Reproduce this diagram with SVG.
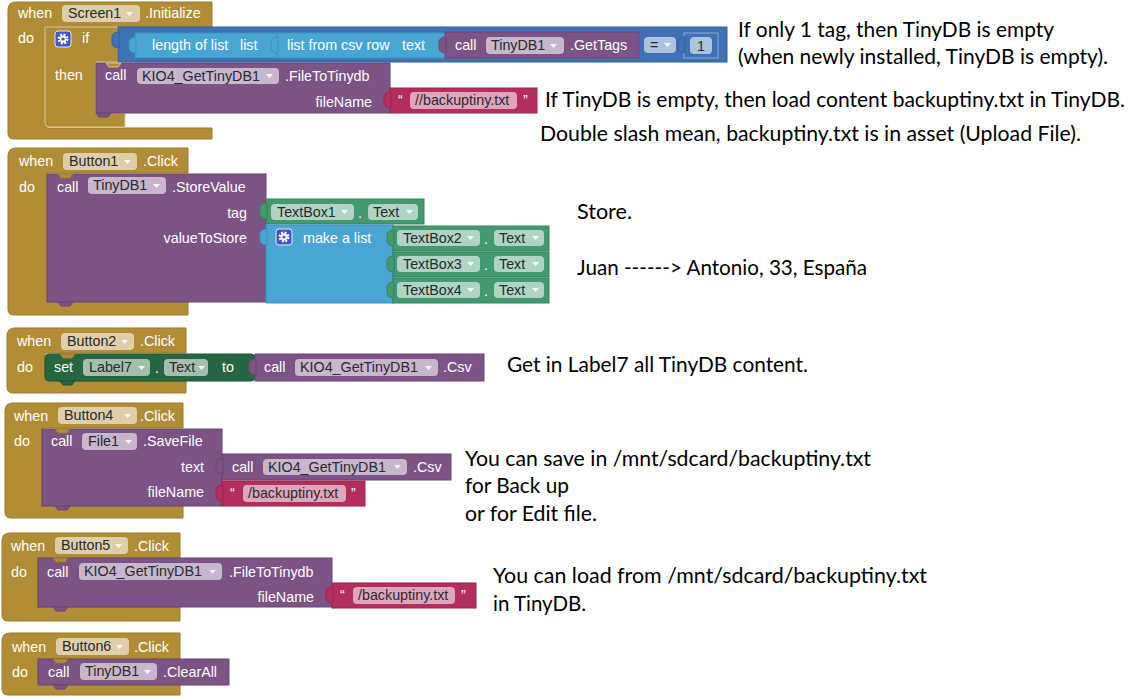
<svg xmlns="http://www.w3.org/2000/svg" xmlns:xlink="http://www.w3.org/1999/xlink" width="1138" height="698" viewBox="0 0 1138 698">
<style>
.ev{fill:#B18E35;stroke:#9A7A2C;stroke-width:1}
.ifb{fill:#B18E35;stroke:#D9C690;stroke-width:1}
.pu{fill:#7C5385;stroke:#6A4572;stroke-width:1}
.pk{fill:#B32D5E;stroke:#9C2450;stroke-width:1}
.gr{fill:#439970;stroke:#37835F;stroke-width:1}
.dg{fill:#266643;stroke:#1E5536;stroke-width:1}
.lb{fill:#49A6D4;stroke:#3B8FBA;stroke-width:1}
.mb{fill:#3F71B5;stroke:#35619C;stroke-width:1}
.mbn{fill:#3F71B5;stroke:#8FAEDA;stroke-width:1}
.fd{fill:#fff;fill-opacity:.58;stroke:none}
.ar{fill:#fff;fill-opacity:.85}
.t{font-family:"Liberation Sans",Arial,sans-serif;font-size:14.3px;fill:#fff}
.ft{font-family:"Liberation Sans",Arial,sans-serif;font-size:14.3px;fill:#2a2a2a}
.r{text-anchor:end}
.n{font-family:Lato,"Open Sans",sans-serif;font-size:21px;fill:#000}
</style>
<defs>
<path id="tab" d="M1,4 C-3,4 -6,6 -6,9 V15 C-6,18 -3,20 1,20 Z"/>
<path id="ntc" d="M0,0 L3,4 H12 L15,0 Z"/>
<path id="arw" d="M0,0 H7 L3.5,4 Z"/>
<g id="gear">
<rect x="0" y="0" width="16" height="16" rx="3" fill="#3D57C8" stroke="#E6E8F6" stroke-width="1"/>
<circle cx="8" cy="8" r="4.2" fill="none" stroke="#fff" stroke-width="2.6" stroke-dasharray="1.9 1.4"/>
<circle cx="8" cy="8" r="3.4" fill="#fff"/>
<circle cx="8" cy="8" r="1.6" fill="#3D57C8"/>
</g>
</defs>

<g id="screen1-initialize">
<path class="ev" d="M8,10 Q8,2 16,2 H212 V27 H47 V128 H212 V139 H14 Q8,139 8,133 Z"/>
<text class="t" x="18" y="18">when</text>
<rect class="fd" x="62" y="5" width="78" height="17" rx="4"/>
<text class="ft" x="68" y="18">Screen1</text>
<use href="#arw" x="126" y="12" class="ar"/>
<text class="t" x="145" y="18">.Initialize</text>
<text class="t" x="18" y="43">do</text>
<path class="ifb" d="M45,27 H118 V62 H96 V113 H125 V127 H49 Q45,127 45,123 Z"/>
<use href="#ntc" x="96" y="113" class="pu"/>
<use href="#gear" x="55" y="31"/>
<text class="t" x="82" y="43">if</text>
<text class="t" x="55" y="80">then</text>
<rect class="mb" x="118" y="27" width="609" height="35"/>
<use href="#tab" x="118" y="28" class="mb"/>
<rect class="lb" x="135" y="33" width="504" height="25"/>
<use href="#tab" x="135" y="33" class="lb"/>
<text class="t" x="152" y="50">length of list</text>
<text class="t" x="240" y="50">list</text>
<rect class="lb" x="277" y="33" width="362" height="25"/>
<use href="#tab" x="277" y="33" class="lb"/>
<text class="t" x="287" y="50">list from csv row</text>
<text class="t" x="402" y="50">text</text>
<rect class="pu" x="445" y="32" width="194" height="26"/>
<use href="#tab" x="445" y="33" class="pu"/>
<text class="t" x="455" y="50">call</text>
<rect class="fd" x="486" y="37" width="78" height="17" rx="4"/>
<text class="ft" x="491" y="50">TinyDB1</text>
<use href="#arw" x="550" y="44" class="ar"/>
<text class="t" x="570" y="50">.GetTags</text>
<rect class="fd" x="644" y="37" width="32" height="16" rx="4"/>
<text class="ft" x="650" y="50">=</text>
<use href="#arw" x="664" y="43" class="ar"/>
<rect class="mbn" x="684" y="33" width="34" height="25"/>
<use href="#tab" x="684" y="33" class="mb"/>
<rect class="fd" x="690" y="37" width="22" height="17" rx="4"/>
<text class="ft" x="697" y="51">1</text>
<rect class="pu" x="96" y="63" width="294" height="50"/>
<use href="#ntc" x="106" y="63" class="ifb"/>
<text class="t" x="105" y="80">call</text>
<rect class="fd" x="137" y="68" width="142" height="16" rx="4"/>
<text class="ft" x="142" y="81">KIO4_GetTinyDB1</text>
<use href="#arw" x="266" y="74" class="ar"/>
<text class="t" x="285" y="81">.FileToTinydb</text>
<text class="t r" x="372" y="107">fileName</text>
<rect class="pk" x="390" y="88" width="147" height="25"/>
<use href="#tab" x="390" y="88" class="pk"/>
<text class="t" x="398" y="105">“</text>
<rect class="fd" x="410" y="92" width="107" height="17" rx="4"/>
<text class="ft" x="415" y="105">//backuptiny.txt</text>
<text class="t" x="523" y="105">”</text>
</g>

<g id="button1-click">
<path class="ev" d="M8,156 Q8,148 16,148 H188 V173 H47 V302 H188 V315 H14 Q8,315 8,309 Z"/>
<text class="t" x="19" y="166">when</text>
<rect class="fd" x="63" y="153" width="74" height="17" rx="4"/>
<text class="ft" x="69" y="166">Button1</text>
<use href="#arw" x="124" y="160" class="ar"/>
<text class="t" x="143" y="166">.Click</text>
<text class="t" x="19" y="192">do</text>
<rect class="pu" x="47" y="174" width="219" height="128"/>
<use href="#ntc" x="58" y="174" class="ev"/>
<use href="#ntc" x="58" y="302" class="pu"/>
<text class="t" x="57" y="192">call</text>
<rect class="fd" x="88" y="177" width="78" height="17" rx="4"/>
<text class="ft" x="93" y="190">TinyDB1</text>
<use href="#arw" x="153" y="184" class="ar"/>
<text class="t" x="172" y="192">.StoreValue</text>
<text class="t r" x="247" y="218">tag</text>
<text class="t r" x="247" y="243">valueToStore</text>
<rect class="gr" x="266" y="199" width="158" height="25"/>
<use href="#tab" x="266" y="199" class="gr"/>
<rect class="fd" x="271" y="204" width="83" height="16" rx="4"/>
<text class="ft" x="277" y="217">TextBox1</text>
<use href="#arw" x="341" y="210" class="ar"/>
<text class="t" x="358" y="218">.</text>
<rect class="fd" x="368" y="204" width="50" height="16" rx="4"/>
<text class="ft" x="373" y="217">Text</text>
<use href="#arw" x="406" y="210" class="ar"/>
<rect class="lb" x="266" y="225" width="127" height="78"/>
<use href="#tab" x="266" y="225" class="lb"/>
<use href="#gear" x="276" y="229"/>
<text class="t" x="303" y="243">make a list</text>
<rect class="gr" x="393" y="226" width="156" height="25"/>
<use href="#tab" x="393" y="226" class="gr"/>
<rect class="fd" x="397" y="230" width="83" height="16" rx="4"/>
<text class="ft" x="403" y="243">TextBox2</text>
<use href="#arw" x="467" y="236" class="ar"/>
<text class="t" x="484" y="244">.</text>
<rect class="fd" x="494" y="230" width="50" height="16" rx="4"/>
<text class="ft" x="499" y="243">Text</text>
<use href="#arw" x="532" y="236" class="ar"/>
<rect class="gr" x="393" y="252" width="156" height="25"/>
<use href="#tab" x="393" y="252" class="gr"/>
<rect class="fd" x="397" y="256" width="83" height="16" rx="4"/>
<text class="ft" x="403" y="269">TextBox3</text>
<use href="#arw" x="467" y="262" class="ar"/>
<text class="t" x="484" y="270">.</text>
<rect class="fd" x="494" y="256" width="50" height="16" rx="4"/>
<text class="ft" x="499" y="269">Text</text>
<use href="#arw" x="532" y="262" class="ar"/>
<rect class="gr" x="393" y="278" width="156" height="25"/>
<use href="#tab" x="393" y="278" class="gr"/>
<rect class="fd" x="397" y="282" width="83" height="16" rx="4"/>
<text class="ft" x="403" y="295">TextBox4</text>
<use href="#arw" x="467" y="288" class="ar"/>
<text class="t" x="484" y="296">.</text>
<rect class="fd" x="494" y="282" width="50" height="16" rx="4"/>
<text class="ft" x="499" y="295">Text</text>
<use href="#arw" x="532" y="288" class="ar"/>
</g>

<g id="button2-click">
<path class="ev" d="M7,336 Q7,328 15,328 H186 V353 H45 V381 H186 V393 H13 Q7,393 7,387 Z"/>
<text class="t" x="17" y="346">when</text>
<rect class="fd" x="61" y="333" width="73" height="17" rx="4"/>
<text class="ft" x="67" y="346">Button2</text>
<use href="#arw" x="121" y="340" class="ar"/>
<text class="t" x="140" y="346">.Click</text>
<text class="t" x="17" y="372">do</text>
<rect class="dg" x="45" y="354" width="210" height="27" rx="4"/>
<use href="#ntc" x="60" y="354" class="ev"/>
<use href="#ntc" x="60" y="381" class="dg"/>
<text class="t" x="54" y="372">set</text>
<rect class="fd" x="83" y="359" width="67" height="17" rx="4"/>
<text class="ft" x="89" y="372">Label7</text>
<use href="#arw" x="138" y="366" class="ar"/>
<text class="t" x="155" y="373">.</text>
<rect class="fd" x="164" y="359" width="44" height="17" rx="4"/>
<text class="ft" x="169" y="372">Text</text>
<use href="#arw" x="198" y="366" class="ar"/>
<text class="t" x="222" y="372">to</text>
<rect class="pu" x="255" y="354" width="229" height="27"/>
<use href="#tab" x="255" y="355" class="pu"/>
<text class="t" x="264" y="372">call</text>
<rect class="fd" x="295" y="359" width="143" height="17" rx="4"/>
<text class="ft" x="300" y="372">KIO4_GetTinyDB1</text>
<use href="#arw" x="425" y="366" class="ar"/>
<text class="t" x="443" y="372">.Csv</text>
</g>

<g id="button4-click">
<path class="ev" d="M5,411 Q5,403 13,403 H183 V428 H42 V506 H183 V518 H11 Q5,518 5,512 Z"/>
<text class="t" x="14" y="421">when</text>
<rect class="fd" x="58" y="407" width="79" height="17" rx="4"/>
<text class="ft" x="64" y="420">Button4</text>
<use href="#arw" x="124" y="414" class="ar"/>
<text class="t" x="140" y="421">.Click</text>
<text class="t" x="14" y="446">do</text>
<rect class="pu" x="42" y="429" width="180" height="77"/>
<use href="#ntc" x="55" y="429" class="ev"/>
<use href="#ntc" x="55" y="506" class="pu"/>
<text class="t" x="51" y="446">call</text>
<rect class="fd" x="82" y="433" width="55" height="17" rx="4"/>
<text class="ft" x="88" y="446">File1</text>
<use href="#arw" x="125" y="440" class="ar"/>
<text class="t" x="143" y="446">.SaveFile</text>
<text class="t r" x="204" y="472">text</text>
<text class="t r" x="204" y="497">fileName</text>
<rect class="pu" x="222" y="454" width="229" height="26"/>
<use href="#tab" x="222" y="454" class="pu"/>
<text class="t" x="232" y="472">call</text>
<rect class="fd" x="263" y="459" width="144" height="16" rx="4"/>
<text class="ft" x="268" y="472">KIO4_GetTinyDB1</text>
<use href="#arw" x="394" y="465" class="ar"/>
<text class="t" x="413" y="472">.Csv</text>
<rect class="pk" x="222" y="481" width="143" height="25"/>
<use href="#tab" x="222" y="481" class="pk"/>
<text class="t" x="230" y="498">“</text>
<rect class="fd" x="243" y="485" width="103" height="17" rx="4"/>
<text class="ft" x="248" y="498">/backuptiny.txt</text>
<text class="t" x="351" y="498">”</text>
</g>

<g id="button5-click">
<path class="ev" d="M2,541 Q2,533 10,533 H180 V558 H38 V607 H180 V621 H8 Q2,621 2,615 Z"/>
<text class="t" x="11" y="551">when</text>
<rect class="fd" x="55" y="537" width="73" height="17" rx="4"/>
<text class="ft" x="61" y="550">Button5</text>
<use href="#arw" x="115" y="544" class="ar"/>
<text class="t" x="134" y="551">.Click</text>
<text class="t" x="11" y="577">do</text>
<rect class="pu" x="38" y="558" width="294" height="49"/>
<use href="#ntc" x="53" y="558" class="ev"/>
<use href="#ntc" x="53" y="607" class="pu"/>
<text class="t" x="47" y="577">call</text>
<rect class="fd" x="79" y="563" width="143" height="17" rx="4"/>
<text class="ft" x="84" y="576">KIO4_GetTinyDB1</text>
<use href="#arw" x="209" y="570" class="ar"/>
<text class="t" x="229" y="577">.FileToTinydb</text>
<text class="t r" x="314" y="602">fileName</text>
<rect class="pk" x="332" y="583" width="144" height="25"/>
<use href="#tab" x="332" y="583" class="pk"/>
<text class="t" x="340" y="600">“</text>
<rect class="fd" x="353" y="587" width="102" height="17" rx="4"/>
<text class="ft" x="358" y="600">/backuptiny.txt</text>
<text class="t" x="461" y="600">”</text>
</g>

<g id="button6-click">
<path class="ev" d="M2,641 Q2,633 10,633 H180 V659 H38 V684 H180 V695 H8 Q2,695 2,689 Z"/>
<text class="t" x="12" y="652">when</text>
<rect class="fd" x="56" y="638" width="73" height="17" rx="4"/>
<text class="ft" x="62" y="651">Button6</text>
<use href="#arw" x="116" y="645" class="ar"/>
<text class="t" x="134" y="652">.Click</text>
<text class="t" x="12" y="677">do</text>
<rect class="pu" x="38" y="659" width="191" height="26"/>
<use href="#ntc" x="53" y="659" class="ev"/>
<use href="#ntc" x="53" y="685" class="pu"/>
<text class="t" x="48" y="677">call</text>
<rect class="fd" x="80" y="663" width="77" height="17" rx="4"/>
<text class="ft" x="85" y="676">TinyDB1</text>
<use href="#arw" x="144" y="670" class="ar"/>
<text class="t" x="163" y="677">.ClearAll</text>
</g>

<g id="notes">
<text class="n" x="738" y="37" textLength="316" lengthAdjust="spacingAndGlyphs">If only 1 tag, then TinyDB is empty</text>
<text class="n" x="738" y="64" textLength="370" lengthAdjust="spacingAndGlyphs">(when newly installed, TinyDB is empty).</text>
<text class="n" x="545" y="107" textLength="580" lengthAdjust="spacingAndGlyphs">If TinyDB is empty, then load content backuptiny.txt in TinyDB.</text>
<text class="n" x="540" y="141" textLength="541" lengthAdjust="spacingAndGlyphs">Double slash mean, backuptiny.txt is in asset (Upload File).</text>
<text class="n" x="577" y="219" textLength="55" lengthAdjust="spacingAndGlyphs">Store.</text>
<text class="n" x="577" y="275" textLength="290" lengthAdjust="spacingAndGlyphs">Juan ------&gt; Antonio, 33, España</text>
<text class="n" x="507" y="372" textLength="301" lengthAdjust="spacingAndGlyphs">Get in Label7 all TinyDB content.</text>
<text class="n" x="465" y="466" textLength="406" lengthAdjust="spacingAndGlyphs">You can save in /mnt/sdcard/backuptiny.txt</text>
<text class="n" x="465" y="493" textLength="104" lengthAdjust="spacingAndGlyphs">for Back up</text>
<text class="n" x="465" y="521" textLength="132" lengthAdjust="spacingAndGlyphs">or for Edit file.</text>
<text class="n" x="493" y="583" textLength="434" lengthAdjust="spacingAndGlyphs">You can load from /mnt/sdcard/backuptiny.txt</text>
<text class="n" x="493" y="611" textLength="93" lengthAdjust="spacingAndGlyphs">in TinyDB.</text>
</g>
</svg>
